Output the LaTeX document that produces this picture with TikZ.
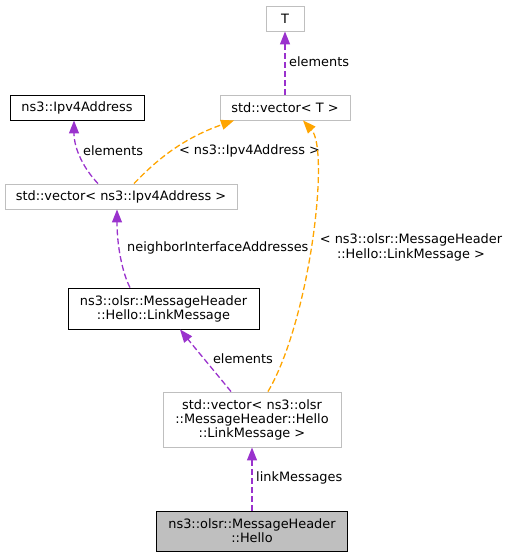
\documentclass[tikz,border=0pt]{standalone}
\usepackage{fontspec}
\setmainfont{DejaVu Sans}
\usetikzlibrary{arrows.meta}
\definecolor{edgepurple}{HTML}{9A32CD}
\definecolor{edgeorange}{HTML}{FFA500}
\definecolor{boxgray}{HTML}{BFBFBF}
\tikzset{classbox/.style={draw=black, rectangle, line width=0.9pt, inner sep=1pt, align=center, font=\fontsize{12.9}{14}\selectfont}}
\tikzset{extbox/.style={classbox, draw=boxgray}}
\tikzset{mainbox/.style={classbox, fill=boxgray}}
\tikzset{edgelabel/.style={inner sep=0pt, align=center, font=\fontsize{12.9}{14.5}\selectfont}}
\tikzset{member/.style={draw=edgepurple, line width=1.3pt, dash pattern=on 6pt off 3pt, -{Triangle[length=13pt,width=10pt]}}}
\tikzset{template/.style={member, draw=edgeorange}}

\begin{document}
\begin{tikzpicture}[x=1pt, y=-1pt]
    \useasboundingbox (0,0) rectangle (508,557);
    \node[extbox, minimum width=38pt, minimum height=25pt] at (285,18.5) (T) {T};
    \node[extbox, minimum width=130pt, minimum height=25pt] at (285,107.5) (vecT) {std::vector< T >};
    \node[classbox, minimum width=134pt, minimum height=25pt] at (77,107.5) (ipv4) {ns3::Ipv4Address};
    \node[extbox, minimum width=232pt, minimum height=25pt] at (121,196.5) (vecip) {std::vector< ns3::Ipv4Address >};
    \node[classbox, minimum width=191pt, minimum height=41pt] at (163.5,308.5) (link) {ns3::olsr::MessageHeader\\::Hello::LinkMessage};
    \node[extbox, minimum width=178pt, minimum height=55pt] at (252,419.5) (veclink) {std::vector< ns3::olsr\\::MessageHeader::Hello\\::LinkMessage >};
    \node[mainbox, minimum width=191pt, minimum height=40pt] at (252,531) (hello) {ns3::olsr::MessageHeader\\::Hello};

    \draw[member] (vecT.north) -- (T.south);
    \node[edgelabel, anchor=west] at (289,62) (lbelemT) {elements};

    \draw[member] ([xshift=-23pt]vecip.north) .. controls (85,170) and (74,150) .. ([xshift=-3pt]ipv4.south);
    \node[edgelabel, anchor=west] at (83,151) (lbelemip) {elements};

    \draw[template] ([xshift=13pt]vecip.north) .. controls (152,165) and (178,140) .. ([xshift=-51pt]vecT.south);
    \node[edgelabel] at (249.5,151) (lbtplip) {< ns3::Ipv4Address >};

    \draw[member] ([xshift=-33.5pt]link.north) .. controls (122,272) and (117,245) .. ([xshift=-4pt]vecip.south);
    \node[edgelabel, anchor=west] at (127,248) (lbneigh) {neighborInterfaceAddresses};

    \draw[template] ([xshift=16pt]veclink.north) .. controls (310,320) and (330,150) .. ([xshift=18pt]vecT.south);
    \node[edgelabel] at (411,247.5) (lbtpllink) {< ns3::olsr::MessageHeader\\::Hello::LinkMessage >};

    \draw[member] ([xshift=-21pt]veclink.north) .. controls (215,372) and (195,348) .. ([xshift=16.5pt]link.south);
    \node[edgelabel] at (243,359) (lbelemlink) {elements};

    \draw[member] (hello.north) -- (veclink.south);
    \node[edgelabel, anchor=west] at (256,478) (lblinkmsg) {linkMessages};
\end{tikzpicture}
\end{document}
